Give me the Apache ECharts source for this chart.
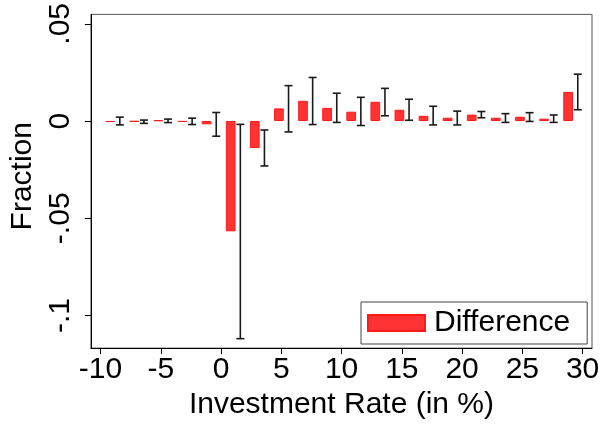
<!DOCTYPE html>
<html>
<head>
<meta charset="utf-8">
<script src="https://cdn.jsdelivr.net/npm/echarts@6/dist/echarts.min.js"></script>
<style>
html,body{margin:0;padding:0;background:#fff;}
#chart{width:610px;height:425px;}
</style>
</head>
<body>
<div id="chart"></div>
<script>
// Bin centers (investment rate, %)
const binCenters = [-9, -7, -5, -3, -1, 1, 3, 5, 7, 9, 11, 13, 15, 17, 19, 21, 23, 25, 27, 29];
// Difference (bar heights)
const difference = [-0.0005, -0.0003, 0.0004, -0.0004, -0.0017, -0.0567, -0.0139, 0.0065, 0.0104, 0.0068,
                    0.0048, 0.0099, 0.0058, 0.0027, 0.0017, 0.0033, 0.0017, 0.0022, 0.0012, 0.0150];
// Confidence interval bounds
const ciLow  = [-0.0020, -0.0012, -0.0008, -0.0018, -0.0078, -0.1119, -0.0231, -0.0056, -0.0018, -0.0007,
                -0.0023, 0.0027, 0.0004, -0.0020, -0.0020, 0.0017, -0.0007, -0.0002, -0.0007, 0.0058];
const ciHigh = [0.0020, 0.0005, 0.0010, 0.0015, 0.0044, -0.0017, -0.0046, 0.0182, 0.0224, 0.0143,
                0.0122, 0.0168, 0.0112, 0.0076, 0.0051, 0.0049, 0.0038, 0.0043, 0.0031, 0.0241];
// Tick labels
const xTicks = [-10, -5, 0, 5, 10, 15, 20, 25, 30];
const yTicks = [-0.1, -0.05, 0, 0.05];
const seriesName = 'Difference';
const xTitle = 'Investment Rate (in %)';
const yTitle = 'Fraction';

const BAR_SHIFT = -0.2;   // bar drawn left of bin center
const ERR_SHIFT = 0.6;    // error bar drawn right of bin center
const FONT = 'Liberation Sans, Arial, sans-serif';

const chart = echarts.init(document.getElementById('chart'), null, {renderer: 'canvas'});

function fmtY(v) {
  if (v === 0) return '0';
  return String(v).replace('0.', '.');
}

const option = {
  animation: false,
  backgroundColor: '#ffffff',
  grid: {
    left: 87, top: 13, width: 505, height: 337,
    show: true, borderColor: '#555', borderWidth: 1, backgroundColor: 'transparent'
  },
  legend: {
    data: [seriesName],
    left: 361, top: 302,
    orient: 'horizontal',
    padding: [6, 17, 6, 6],
    borderColor: '#444', borderWidth: 1,
    backgroundColor: '#fff',
    itemWidth: 57, itemHeight: 16,
    icon: 'rect',
    textStyle: {fontFamily: FONT, fontSize: 30, color: '#000', padding: [0, 0, 0, 4]}
  },
  xAxis: {
    type: 'value',
    min: -10.8, max: 30.78,
    name: xTitle,
    nameLocation: 'middle',
    nameGap: 38,
    nameTextStyle: {fontFamily: FONT, fontSize: 30, color: '#000'},
    axisLine: {show: true, onZero: false, lineStyle: {color: '#000', width: 1}},
    axisTick: {show: true, length: 6, lineStyle: {color: '#000'}, customValues: xTicks},
    axisLabel: {fontFamily: FONT, fontSize: 30, color: '#000', margin: 7, customValues: xTicks,
                formatter: v => String(v)},
    splitLine: {show: false}
  },
  yAxis: {
    type: 'value',
    min: -0.11675, max: 0.05484,
    name: yTitle,
    nameLocation: 'middle',
    nameGap: 47,
    nameTextStyle: {fontFamily: FONT, fontSize: 30, color: '#000', padding: [0, 0, 0, 10]},
    axisLine: {show: true, onZero: false, lineStyle: {color: '#000', width: 1}},
    axisTick: {show: true, length: 6, lineStyle: {color: '#000'}, customValues: yTicks},
    axisLabel: {fontFamily: FONT, fontSize: 30, color: '#000', margin: 15, rotate: 90,
                customValues: yTicks, formatter: fmtY},
    splitLine: {show: false}
  },
  series: [
    {
      name: seriesName,
      type: 'bar',
      barWidth: 9.7,
      itemStyle: {color: '#ff3333', borderColor: '#ff1a1a', borderWidth: 1},
      data: binCenters.map((c, i) => [c + BAR_SHIFT, difference[i]])
    },
    {
      name: 'CI',
      type: 'custom',
      data: binCenters.map((c, i) => [c + ERR_SHIFT, ciLow[i], ciHigh[i]]),
      encode: {x: 0, y: [1, 2]},
      renderItem: function (params, api) {
        const x = api.value(0);
        const lo = api.coord([x, api.value(1)]);
        const hi = api.coord([x, api.value(2)]);
        const hw = 4;
        const st = {stroke: '#1a1a1a', lineWidth: 1.6};
        return {
          type: 'group',
          children: [
            {type: 'line', shape: {x1: lo[0], y1: lo[1], x2: hi[0], y2: hi[1]}, style: st},
            {type: 'line', shape: {x1: lo[0] - hw, y1: lo[1], x2: lo[0] + hw, y2: lo[1]}, style: st},
            {type: 'line', shape: {x1: hi[0] - hw, y1: hi[1], x2: hi[0] + hw, y2: hi[1]}, style: st}
          ]
        };
      },
      z: 3
    }
  ]
};
chart.setOption(option);
</script>
</body>
</html>
